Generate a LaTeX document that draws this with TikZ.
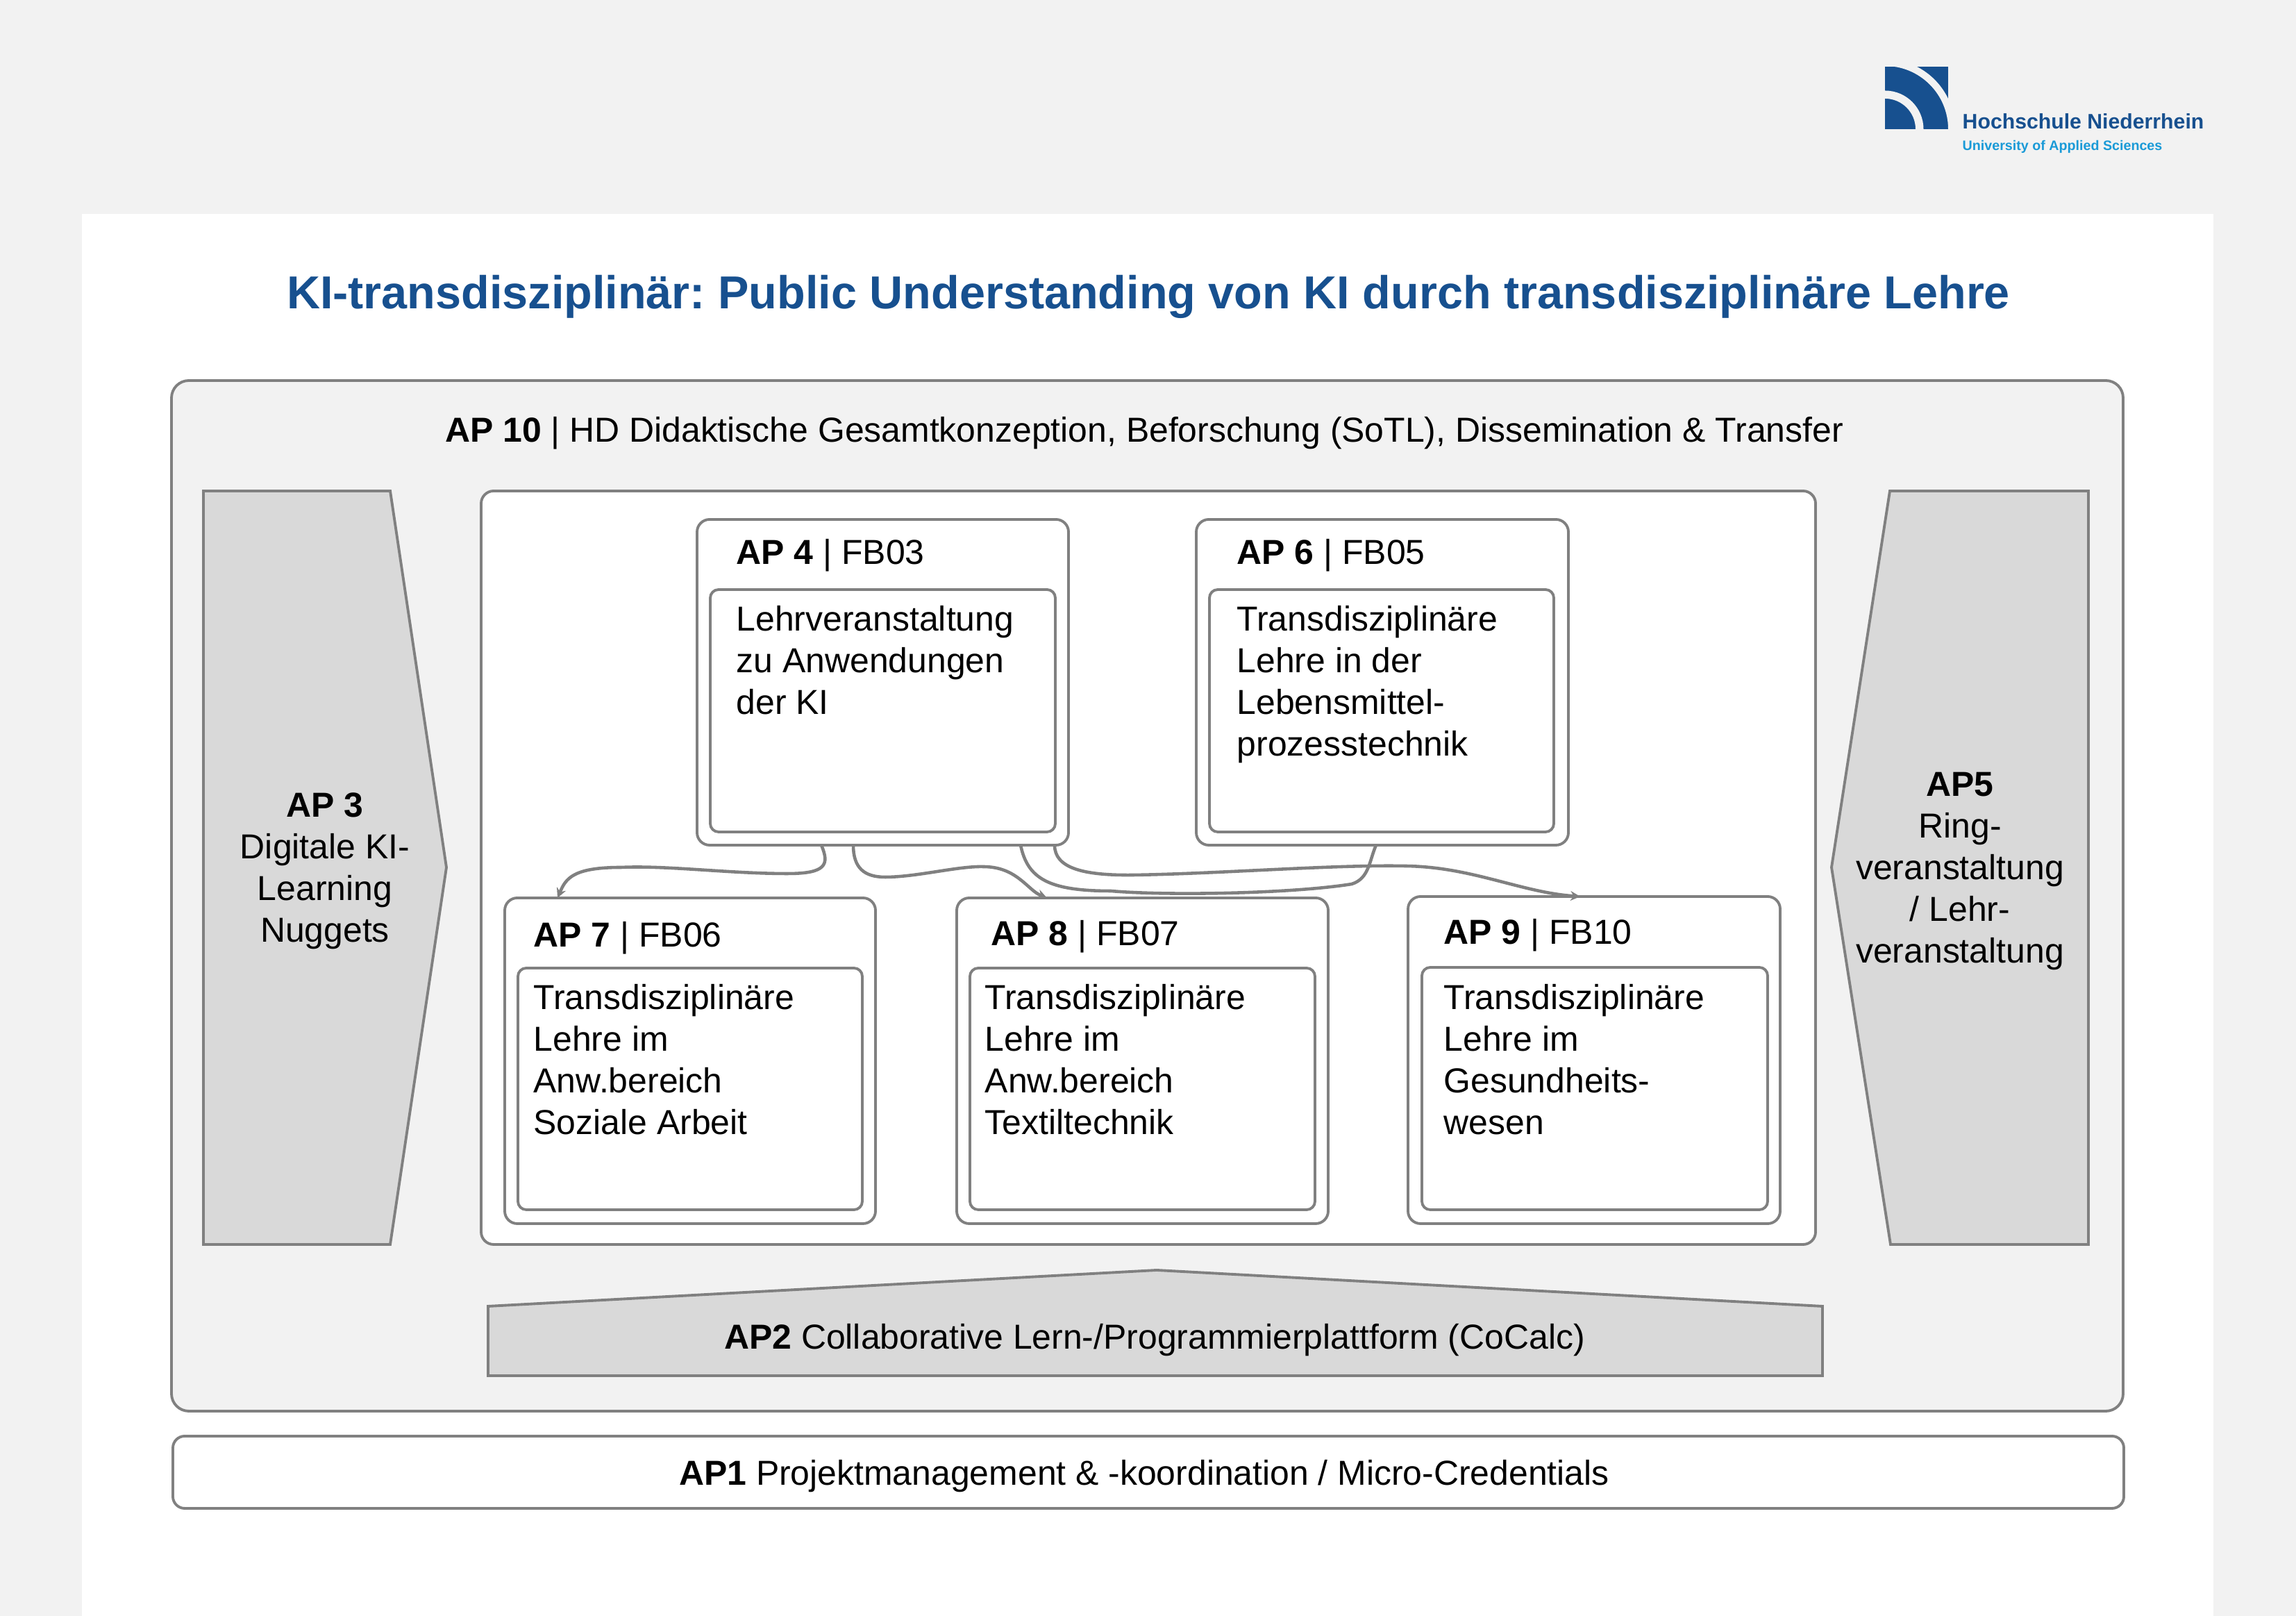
\documentclass[tikz,border=0pt]{standalone}
\usepackage{fontspec}
\setmainfont{Liberation Sans}
\usetikzlibrary{arrows.meta}

\definecolor{seite}{HTML}{F2F2F2}
\definecolor{rand}{HTML}{808080}
\definecolor{pfeil}{HTML}{D9D9D9}
\definecolor{hsblau}{HTML}{17508F}
\definecolor{hshell}{HTML}{1A9AD7}

\tikzset{
	rahmen/.style={draw=rand, line width=1.1pt, fill=white, rounded corners=0.18cm, inner sep=0pt, outer sep=0pt, anchor=north west},
	innen/.style={rahmen, rounded corners=0.12cm},
	keil/.style={draw=rand, line width=1.1pt, fill=pfeil},
	txt/.style={inner sep=0pt, align=left, anchor=north west, font=\fontsize{14.2}{17.07}\selectfont},
	mitte/.style={inner sep=0pt, align=center, font=\fontsize{14.2}{17.07}\selectfont},
	kopf/.style={inner sep=0pt, anchor=base west, font=\fontsize{14.2}{17.07}\selectfont},
	link/.style={draw=rand, line width=1.3pt},
	linkpfeil/.style={link, -{Stealth[length=0.14cm,width=0.14cm]}},
}

\begin{document}
\frenchspacing
\begin{tikzpicture}
\useasboundingbox (0,0) rectangle (33.07,23.27);

	% Hintergrund und weisse Folie
	\fill[seite] (0,0) rectangle (33.07,23.27);
	\fill[white] (1.18,0) rectangle (31.88,20.19);

	% Logo
	\begin{scope}
		\clip (27.15,22.31) rectangle (28.06,21.41);
		\fill[hsblau] (27.15,22.31) rectangle (28.06,21.41);
		\fill[seite, even odd rule] (27.15,21.41) circle [radius=1.01] circle [radius=0.91];
		\fill[seite, even odd rule] (27.15,21.41) circle [radius=0.555] circle [radius=0.44];
	\end{scope}
	\node[inner sep=0pt, anchor=base west, text=hsblau, font=\bfseries\fontsize{8.6}{10}\selectfont] (hsname) at (28.26,21.41) {Hochschule Niederrhein};
	\node[inner sep=0pt, anchor=base west, text=hshell, font=\bfseries\fontsize{5.6}{7}\selectfont] (hszusatz) at (28.26,21.10) {University of Applied Sciences};

	% Titel
	\node[inner sep=0pt, anchor=base, text=hsblau, font=\bfseries\fontsize{18.94}{22}\selectfont] (titel) at (16.54,18.82) {KI-transdisziplinär: Public Understanding von KI durch transdisziplinäre Lehre};

	% AP 10 und AP 1
	\node[rahmen, fill=seite, rounded corners=0.25cm, minimum width=28.11cm, minimum height=14.84cm] (ap10) at (2.47,17.79) {};
	\node[kopf, anchor=base] (ap10txt) at (16.48,16.90) {\textbf{AP 10} | HD Didaktische Gesamtkonzeption, Beforschung (SoTL), Dissemination \& Transfer};
	\node[rahmen, rounded corners=0.17cm, minimum width=28.10cm, minimum height=1.04cm] (ap1) at (2.49,2.59) {};
	\node[kopf, anchor=base] (ap1txt) at (16.48,1.88) {\textbf{AP1} Projektmanagement \& -koordination / Micro-Credentials};

	% Seitliche Pfeile und AP 2
	\draw[keil] (2.93,16.20) -- (5.62,16.20) -- (6.43,10.78) -- (5.62,5.35) -- (2.93,5.35) -- cycle;
	\node[mitte] (ap3) at (4.68,10.73) {\textbf{AP 3}\\Digitale KI-\\Learning\\Nuggets};
	\draw[keil] (30.08,16.20) -- (27.22,16.20) -- (26.38,10.78) -- (27.23,5.35) -- (30.08,5.35) -- cycle;
	\node[mitte] (ap5) at (28.23,10.72) {\textbf{AP5}\\Ring-\\veranstaltung\\/ Lehr-\\veranstaltung};
	\draw[keil] (7.03,3.46) -- (26.25,3.46) -- (26.25,4.46) -- (16.66,4.98) -- (7.03,4.46) -- cycle;
	\node[kopf, anchor=base] (ap2txt) at (16.63,3.84) {\textbf{AP2} Collaborative Lern-/Programmierplattform (CoCalc)};

	% Mittlere Flaeche
	\node[rahmen, minimum width=19.22cm, minimum height=10.85cm] (mitte) at (6.93,16.20) {};

	% AP 4
	\node[rahmen, minimum width=5.35cm, minimum height=4.69cm] (ap4) at (10.04,15.79) {};
	\node[innen, minimum width=4.97cm, minimum height=3.49cm] (ap4in) at (10.23,14.78) {};
	\node[kopf] (ap4kopf) at (10.60,15.14) {\textbf{AP 4} | FB03};
	\node[txt] (ap4txt) at (10.60,14.55) {Lehrveranstaltung\\zu Anwendungen\\der KI};

	% AP 6
	\node[rahmen, minimum width=5.36cm, minimum height=4.69cm] (ap6) at (17.23,15.79) {};
	\node[innen, minimum width=4.96cm, minimum height=3.49cm] (ap6in) at (17.42,14.78) {};
	\node[kopf] (ap6kopf) at (17.81,15.14) {\textbf{AP 6} | FB05};
	\node[txt] (ap6txt) at (17.81,14.55) {Transdisziplinäre\\Lehre in der\\Lebensmittel-\\prozesstechnik};

	% AP 7
	\node[rahmen, minimum width=5.34cm, minimum height=4.69cm] (ap7) at (7.27,10.34) {};
	\node[innen, minimum width=4.96cm, minimum height=3.48cm] (ap7in) at (7.46,9.33) {};
	\node[kopf] (ap7kopf) at (7.68,9.63) {\textbf{AP 7} | FB06};
	\node[txt] (ap7txt) at (7.68,9.10) {Transdisziplinäre\\Lehre im\\Anw.bereich\\Soziale Arbeit};

	% AP 8
	\node[rahmen, minimum width=5.35cm, minimum height=4.69cm] (ap8) at (13.78,10.34) {};
	\node[innen, minimum width=4.97cm, minimum height=3.48cm] (ap8in) at (13.97,9.33) {};
	\node[kopf] (ap8kopf) at (14.27,9.65) {\textbf{AP 8} | FB07};
	\node[txt] (ap8txt) at (14.18,9.10) {Transdisziplinäre\\Lehre im\\Anw.bereich\\Textiltechnik};

	% AP 9
	\node[rahmen, minimum width=5.36cm, minimum height=4.71cm] (ap9) at (20.28,10.36) {};
	\node[innen, minimum width=4.98cm, minimum height=3.49cm] (ap9in) at (20.48,9.34) {};
	\node[kopf] (ap9kopf) at (20.79,9.67) {\textbf{AP 9} | FB10};
	\node[txt] (ap9txt) at (20.79,9.10) {Transdisziplinäre\\Lehre im\\Gesundheits-\\wesen};

	% Verbindungen
	\draw[linkpfeil] ([xshift=-0.885cm]ap4.south) .. controls (11.95,10.82) and (11.90,10.69) .. (11.34,10.69) .. controls (10.50,10.69) and (9.60,10.81) .. (8.95,10.78) .. controls (8.25,10.78) and (8.15,10.62) .. ([xshift=-1.91cm]ap7.north);
	\draw[linkpfeil] ([xshift=-0.425cm]ap4.south) .. controls (12.29,10.77) and (12.45,10.64) .. (12.75,10.64) .. controls (13.20,10.64) and (13.80,10.80) .. (14.16,10.79) .. controls (14.65,10.79) and (14.80,10.45) .. ([xshift=-1.375cm]ap8.north);
	\draw[link] ([xshift=1.985cm]ap4.south) .. controls (14.80,10.62) and (15.10,10.44) .. (16.00,10.44) .. controls (16.80,10.37) and (18.60,10.40) .. (19.47,10.54) .. controls (19.72,10.62) and (19.72,10.87) .. ([xshift=-0.09cm]ap6.south);
	\draw[linkpfeil] ([xshift=2.475cm]ap4.south) .. controls (15.19,10.77) and (15.60,10.66) .. (16.33,10.67) .. controls (17.60,10.69) and (19.20,10.82) .. (20.23,10.80) .. controls (21.20,10.79) and (21.90,10.42) .. ([xshift=-0.20cm]ap9.north);
\end{tikzpicture}
\end{document}
